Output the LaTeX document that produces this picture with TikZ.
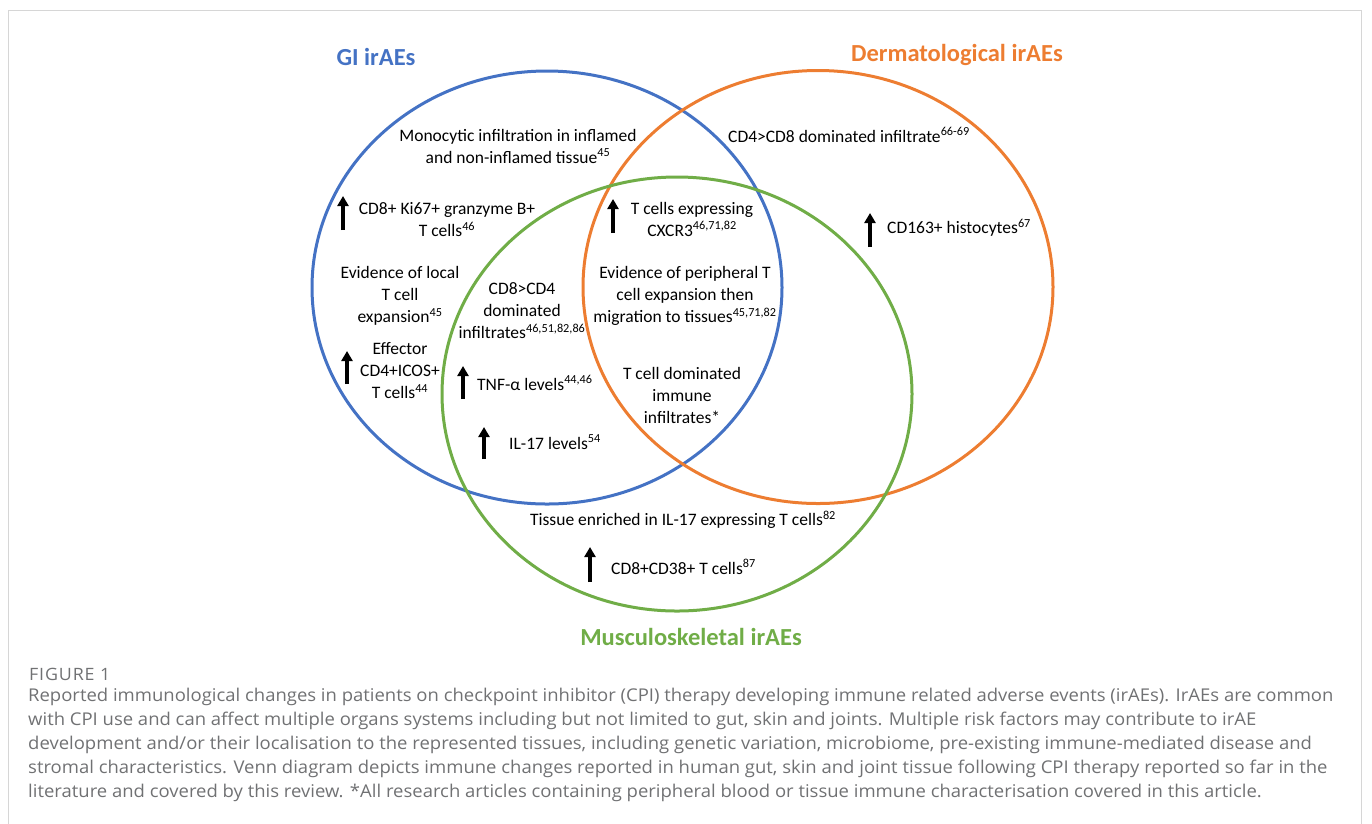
\documentclass[tikz,border=0pt]{standalone}
\usepackage{fontspec}
\setmainfont{Carlito}
\newfontfamily\capfont[FakeStretch=1.05]{Open Sans}
\newfontfamily\figfont[FakeStretch=1.05,LetterSpace=5]{Open Sans}
\usepackage{xcolor}
\usepackage{tikz}
\usetikzlibrary{arrows.meta}
\definecolor{giBlue}{HTML}{4472C4}
\definecolor{dermOrange}{HTML}{ED7D31}
\definecolor{muscGreen}{HTML}{70AD47}
\definecolor{capGrey}{HTML}{707173}
\definecolor{frameGrey}{HTML}{D6D6D6}
\tikzset{
  vennCircle/.style={line width=3pt},
  vennTitle/.style={font=\fontsize{24.5}{28}\selectfont\bfseries, inner sep=0pt},
  vennText/.style={font=\fontsize{17.5}{22}\selectfont, align=center, inner sep=0pt},
  upArrow/.style={-{Triangle[width=11pt,length=10pt]}, line width=4pt},
  capText/.style={font=\capfont\fontsize{17.6}{22}\selectfont, text=capGrey, anchor=west, inner sep=0pt}
}

\begin{document}
\begin{tikzpicture}[x=1pt,y=-1pt]
  \useasboundingbox (0,0) rectangle (1372,823);
  \draw[frameGrey, line width=1pt] (8,830) -- (8,10) -- (1361,10) -- (1361,830);

  \coordinate (GI) at (547,287.5);
  \coordinate (DERM) at (818,287);
  \coordinate (MUSC) at (677,394);

  \draw[vennCircle, giBlue] (GI) ellipse [x radius=235pt, y radius=216.5pt];
  \draw[vennCircle, dermOrange] (DERM) ellipse [x radius=235pt, y radius=216.5pt];
  \draw[vennCircle, muscGreen] (MUSC) ellipse [x radius=235pt, y radius=217pt];

  \node[vennTitle, text=giBlue] (giTitle) at (376,57) {GI irAEs};
  \node[vennTitle, text=dermOrange] (dermTitle) at (957,55) {Dermatological irAEs};
  \node[vennTitle, text=muscGreen] (muscTitle) at (691,637) {Musculoskeletal irAEs};

  % GI only
  \node[vennText] (mono) at (518,146) {Monocytic infiltration in inflamed\\and non-inflamed tissue\textsuperscript{45}};
  \node[vennText] (ki67) at (447,220) {CD8+ Ki67+ granzyme B+\\T cells\textsuperscript{46}};
  \node[vennText] (local) at (400,296) {Evidence of local\\T cell\\expansion\textsuperscript{45}};
  \node[vennText] (effector) at (400,371) {Effector\\CD4+ICOS+\\T cells\textsuperscript{44}};
  \draw[upArrow] (343,230) -- (343,196);
  \draw[upArrow] (347,384) -- (347,351);

  % GI and musculoskeletal
  \node[vennText] (cd8cd4) at (522,311) {CD8>CD4\\dominated\\infiltrates\textsuperscript{46,51,82,86}};
  \node[vennText, anchor=west] (tnf) at (477,383) {TNF-α levels\textsuperscript{44,46}};
  \node[vennText, anchor=west] (il17) at (509,442) {IL-17 levels\textsuperscript{54}};
  \draw[upArrow] (463,399) -- (463,366);
  \draw[upArrow] (484,459) -- (484,427);

  % all three
  \node[vennText] (cxcr3) at (692,219) {T cells expressing\\CXCR3\textsuperscript{46,71,82}};
  \node[vennText] (periph) at (685,296) {Evidence of peripheral T\\cell expansion then\\migration to tissues\textsuperscript{45,71,82}};
  \node[vennText] (tcellDom) at (682,395) {T cell dominated\\immune\\infiltrates*};
  \draw[upArrow] (613,233) -- (613,199);

  % dermatological only
  \node[vennText] (cd4cd8) at (849,135) {CD4>CD8 dominated infiltrate\textsuperscript{66-69}};
  \node[vennText, anchor=west] (cd163) at (887,228) {CD163+ histocytes\textsuperscript{67}};
  \draw[upArrow] (870,247) -- (870,213);

  % musculoskeletal only
  \node[vennText] (il17Tissue) at (683,520) {Tissue enriched in IL-17 expressing T cells\textsuperscript{82}};
  \node[vennText, anchor=west] (cd38) at (611,567) {CD8+CD38+ T cells\textsuperscript{87}};
  \draw[upArrow] (590,582) -- (590,547);

  % caption
  \node[capText, font=\figfont\fontsize{17}{20}\selectfont] (figLabel) at (29,674) {FIGURE 1};
  \node[capText] (cap1) at (28,697) {Reported immunological changes in patients on checkpoint inhibitor (CPI) therapy developing immune related adverse events (irAEs). IrAEs are common};
  \node[capText] (cap2) at (28,721) {with CPI use and can affect multiple organs systems including but not limited to gut, skin and joints. Multiple risk factors may contribute to irAE};
  \node[capText] (cap3) at (28,745) {development and/or their localisation to the represented tissues, including genetic variation, microbiome, pre-existing immune-mediated disease and};
  \node[capText] (cap4) at (28,769) {stromal characteristics. Venn diagram depicts immune changes reported in human gut, skin and joint tissue following CPI therapy reported so far in the};
  \node[capText] (cap5) at (28,793) {literature and covered by this review. *All research articles containing peripheral blood or tissue immune characterisation covered in this article.};
\end{tikzpicture}
\end{document}
